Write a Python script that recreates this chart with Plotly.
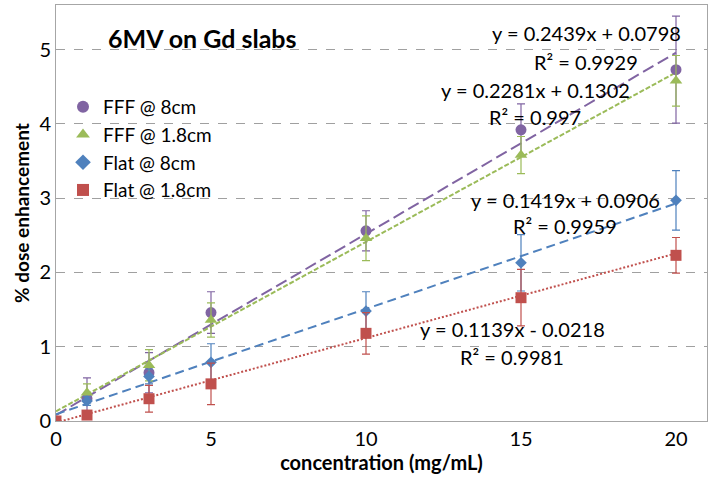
import plotly.graph_objects as go

# ---- data ----
conc = [0, 1, 3, 5, 10, 15, 20]

fff8_y = [None, 0.30, 0.65, 1.46, 2.56, 3.92, 4.73]
fff8_err = [None, 0.28, 0.27, 0.28, 0.27, 0.35, 0.72]

fff18_y = [None, 0.38, 0.75, 1.36, 2.46, 3.58, 4.58]
fff18_err = [None, 0.12, 0.21, 0.23, 0.30, 0.25, 0.34]

flat8_y = [None, 0.27, 0.60, 0.79, 1.48, 2.13, 2.97]
flat8_err = [None, 0.06, 0.10, 0.25, 0.26, 0.38, 0.40]

flat18_y = [0.0, 0.08, 0.30, 0.50, 1.18, 1.66, 2.23]
flat18_err = [0.0, 0.05, 0.18, 0.28, 0.28, 0.38, 0.24]

names = ["FFF @ 8cm", "FFF @ 1.8cm", "Flat @ 8cm", "Flat @ 1.8cm"]
slopes = [0.2439, 0.2281, 0.1419, 0.1139]
intercepts = [0.0798, 0.1302, 0.0906, -0.0218]
r2 = ["0.9929", "0.997", "0.9959", "0.9981"]
fit_x = [0, 20]

colors = ["#8064A2", "#9BBB59", "#4F81BD", "#C0504D"]
symbols = ["circle", "triangle-up", "diamond", "square"]
msizes = [11, 11, 9, 11]
dashes = ["12px,5px", "5px,2px", "9px,5px", "2px,2px"]

ys = [fff8_y, fff18_y, flat8_y, flat18_y]
errs = [fff8_err, fff18_err, flat8_err, flat18_err]

FONT = "Lato"

fig = go.Figure()

# trendlines
for i in range(4):
    fy = [slopes[i] * x + intercepts[i] for x in fit_x]
    fig.add_trace(go.Scatter(
        x=fit_x, y=fy, mode="lines", showlegend=False, hoverinfo="skip",
        line=dict(color=colors[i], width=2, dash=dashes[i]),
    ))

# data points
for i in range(4):
    fig.add_trace(go.Scatter(
        x=conc, y=ys[i], mode="markers", name=names[i],
        marker=dict(color=colors[i], symbol=symbols[i], size=msizes[i]),
        error_y=dict(type="data", array=errs[i], color=colors[i], thickness=1.2, width=4),
    ))

# equation annotations
eq_pos = [(586, 33, 62), (535, 90, 117), (565, 200, 226), (512, 329, 357)]
W, H = 713, 480
L, R, T, B = 56, 6, 5, 59
def px_to_paper(px, py):
    return (px - L) / (W - L - R), (H - B - py) / (H - T - B)

for i in range(4):
    sign = "+" if intercepts[i] >= 0 else "-"
    eq = f"y = {slopes[i]:.4f}x {sign} {abs(intercepts[i]):.4f}"
    cx, y1, y2 = eq_pos[i]
    xp, yp1 = px_to_paper(cx, y1)
    _, yp2 = px_to_paper(cx, y2)
    fig.add_annotation(x=xp, y=yp1, xref="paper", yref="paper", xanchor="center", yanchor="middle",
                       text=eq, showarrow=False, font=dict(family=FONT, size=20, color="#000000"))
    fig.add_annotation(x=xp, y=yp2, xref="paper", yref="paper", xanchor="center", yanchor="middle",
                       text=f"R² = {r2[i]}", showarrow=False, font=dict(family=FONT, size=20, color="#000000"))

# chart title inside plot
tx, ty = px_to_paper(106, 38)
fig.add_annotation(x=tx, y=ty, xref="paper", yref="paper", xanchor="left", yanchor="middle",
                   text="<b>6MV on Gd slabs</b>", showarrow=False,
                   font=dict(family=FONT, size=25, color="#000000"))

lx, ly = px_to_paper(63, 88)
fig.update_layout(
    width=W, height=H,
    margin=dict(l=L, r=R, t=T, b=B, autoexpand=False),
    paper_bgcolor="white", plot_bgcolor="white",
    font=dict(family=FONT, size=20, color="#000000"),
    showlegend=True,
    legend=dict(x=lx, y=ly, xanchor="left", yanchor="top", bgcolor="rgba(0,0,0,0)",
                font=dict(family=FONT, size=19), itemsizing="constant"),
    xaxis=dict(range=[0, 21], tickvals=[0, 5, 10, 15, 20], showgrid=False, zeroline=False,
               showline=True, linecolor="#A6A6A6", linewidth=1, mirror=True, ticks="",
               automargin=False,
               title=dict(text="<b>concentration (mg/mL)</b>", font=dict(family=FONT, size=20), standoff=4),
               tickfont=dict(family=FONT, size=20)),
    yaxis=dict(range=[0, 5.6], tickvals=[0, 1, 2, 3, 4, 5], showgrid=True, gridcolor="#A0A0A0",
               griddash="dash", gridwidth=1, zeroline=False,
               showline=True, linecolor="#A6A6A6", linewidth=1, mirror=True, ticks="",
               automargin=False,
               title=dict(text="<b>% dose enhancement</b>", font=dict(family=FONT, size=19), standoff=4),
               tickfont=dict(family=FONT, size=20)),
)

fig.write_html("out.html", config={"displayModeBar": False},
               post_script="document.body.style.margin='0px';")
